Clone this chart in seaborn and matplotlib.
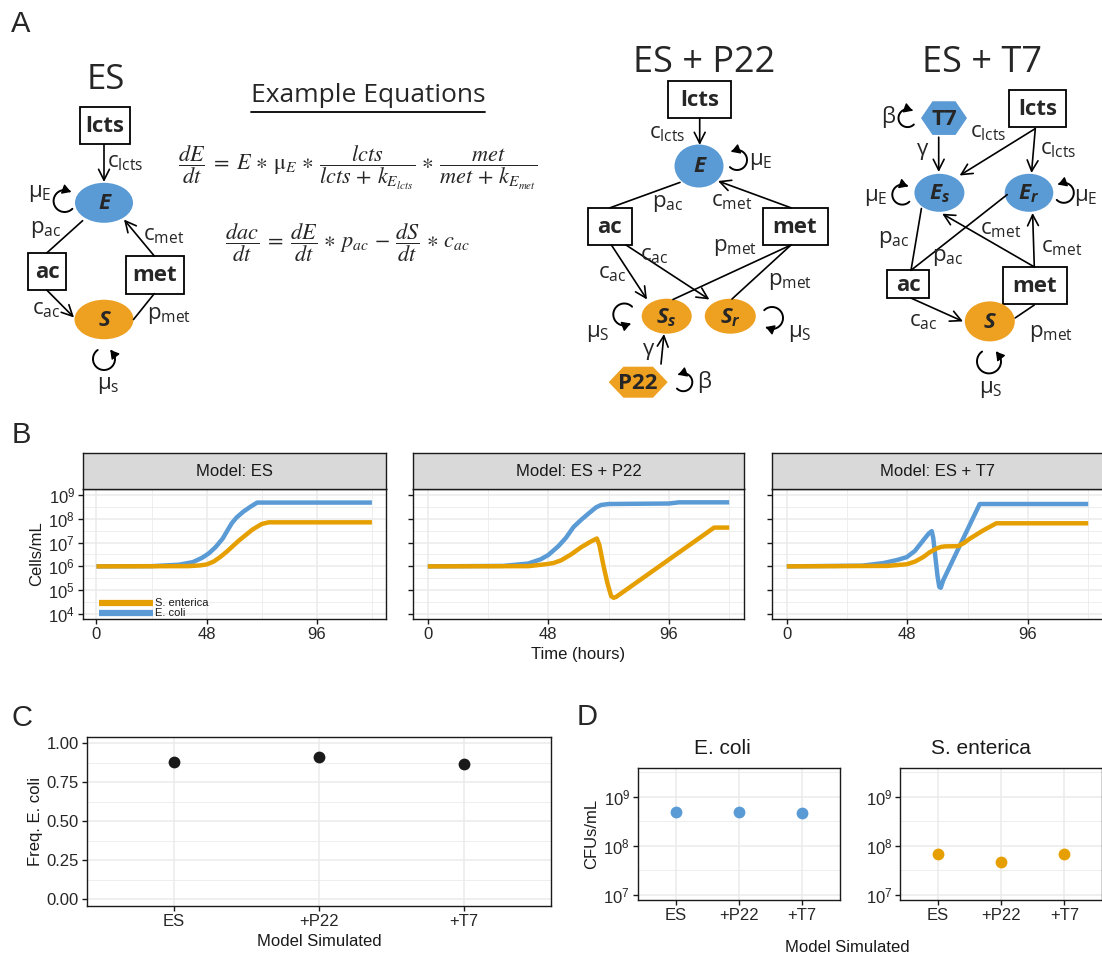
import numpy as np
import pandas as pd
import matplotlib
matplotlib.use('Agg')
import matplotlib.pyplot as plt
import seaborn as sns
from matplotlib.patches import Ellipse, Rectangle, Polygon
from matplotlib.ticker import FixedLocator, NullFormatter

sns.set_theme(style='white')
plt.rcParams['font.family'] = ['Liberation Sans', 'DejaVu Sans']

W, H = 1102, 957
ECOLI = '#5A9BD5'
SENT = '#E69F00'
DFONT = 'Open Sans'

# ---- panel B: time (hours) and log10 cells/mL read from each facet ----
models = ['Model: ES', 'Model: ES + P22', 'Model: ES + T7']

es_ec_t = [0, 24, 36, 42, 46, 49, 52, 55, 57, 59, 61, 64, 67, 70, 120]
es_ec_v = [6.0, 6.01, 6.07, 6.18, 6.36, 6.55, 6.82, 7.17, 7.5, 7.82, 8.05, 8.3, 8.5, 8.68, 8.68]
es_se_t = [0, 40, 45, 48, 51, 54, 57, 62, 68, 72, 75, 120]
es_se_v = [6.0, 6.01, 6.04, 6.08, 6.2, 6.4, 6.64, 7.08, 7.55, 7.78, 7.85, 7.85]

p22_ec_t = [0, 30, 40, 45, 48, 52, 55, 58, 61, 64, 67, 69, 72, 96, 100, 120]
p22_ec_v = [6.0, 6.02, 6.12, 6.3, 6.48, 6.85, 7.2, 7.65, 7.95, 8.22, 8.48, 8.58, 8.62, 8.64, 8.69, 8.69]
p22_se_t = [0, 40, 47, 50, 53, 57, 61, 65, 67.3, 68.3, 70, 71.5, 73, 74, 75, 114, 120]
p22_se_v = [6.0, 6.01, 6.09, 6.14, 6.25, 6.5, 6.8, 7.05, 7.17, 6.9, 6.0, 5.3, 4.75, 4.68, 4.72, 7.63, 7.63]

t7_ec_t = [0, 30, 38.5, 44, 47.8, 51, 54.3, 56.5, 57.7, 58.3, 59, 60, 60.7, 61.3, 62.3, 76.8, 120]
t7_ec_v = [6.0, 6.03, 6.14, 6.27, 6.39, 6.65, 7.09, 7.38, 7.48, 7.2, 6.53, 5.6, 5.14, 5.1, 5.42, 8.62, 8.62]
t7_se_t = [0, 40, 47.8, 51, 54.3, 57, 59.6, 61.5, 63, 68.2, 70.5, 72.8, 78, 83.4, 120]
t7_se_v = [6.0, 6.02, 6.09, 6.2, 6.39, 6.6, 6.75, 6.82, 6.84, 6.85, 6.98, 7.16, 7.5, 7.81, 7.81]

# ---- panel C / D: endpoint values ----
sim_models = ['ES', '+P22', '+T7']
freq_ecoli = [0.878, 0.910, 0.870]
cfu_ecoli = [5.0e8, 5.0e8, 4.6e8]
cfu_senterica = [6.9e7, 4.7e7, 6.9e7]

series = {
    'Model: ES': [(es_ec_t, es_ec_v, 'E. coli'), (es_se_t, es_se_v, 'S. enterica')],
    'Model: ES + P22': [(p22_ec_t, p22_ec_v, 'E. coli'), (p22_se_t, p22_se_v, 'S. enterica')],
    'Model: ES + T7': [(t7_ec_t, t7_ec_v, 'E. coli'), (t7_se_t, t7_se_v, 'S. enterica')],
}
rows = []
for m, lst in series.items():
    for t, v, sp in lst:
        for ti, vi in zip(t, v):
            rows.append((m, sp, ti, 10 ** vi))
growth = pd.DataFrame(rows, columns=['model', 'species', 'time', 'cells'])

fig = plt.figure(figsize=(W / 100, H / 100), dpi=100)


def px_axes(x0, y0, x1, y1):
    return fig.add_axes([x0 / W, 1 - y1 / H, (x1 - x0) / W, (y1 - y0) / H])


def bw(ax):
    ax.set_facecolor('white')
    for s in ax.spines.values():
        s.set_visible(True)
        s.set_color('#1a1a1a')
        s.set_linewidth(1.0)
    ax.grid(True, which='major', color='#EBEBEB', lw=1.1)
    ax.grid(True, which='minor', color='#EBEBEB', lw=0.6)
    ax.set_axisbelow(True)
    ax.tick_params(which='major', length=3.5, width=1.0, color='#1a1a1a',
                   labelsize=12, labelcolor='#262626', pad=2, left=True, bottom=True)
    ax.tick_params(which='minor', length=0)


# ================= panel A (drawn in pixel coordinates) =================
axA = fig.add_axes([0, 0, 1, 1])
axA.set_xlim(0, W)
axA.set_ylim(H, 0)
axA.axis('off')


def box(x0, y0, x1, y1, txt, fs=16):
    axA.add_patch(Rectangle((x0, y0), x1 - x0, y1 - y0, fc='white', ec='black', lw=1.3))
    axA.text((x0 + x1) / 2, (y0 + y1) / 2 + 1, txt, ha='center', va='center', fontsize=fs,
             fontweight='bold', family=DFONT)


def node(cx, cy, w, h, col, txt, sub=None, fs=16):
    axA.add_patch(Ellipse((cx, cy), w, h, fc=col, ec='none'))
    s = txt if sub is None else r'$\mathregular{%s_{%s}}$' % (txt, sub)
    axA.text(cx, cy + 1, s, ha='center', va='center', fontsize=fs, fontweight='bold',
             fontstyle='italic', family=DFONT)


def hexa(cx, cy, w, h, col, txt, fs=16):
    pts = [(cx - w / 2, cy), (cx - w / 4, cy - h / 2), (cx + w / 4, cy - h / 2),
           (cx + w / 2, cy), (cx + w / 4, cy + h / 2), (cx - w / 4, cy + h / 2)]
    axA.add_patch(Polygon(pts, closed=True, fc=col, ec='none'))
    axA.text(cx, cy + 1, txt, ha='center', va='center', fontsize=fs, fontweight='bold', family=DFONT)


def arrow(x0, y0, x1, y1, head=True):
    style = '->,head_length=0.6,head_width=0.3' if head else '-'
    axA.annotate('', xy=(x1, y1), xytext=(x0, y0),
                 arrowprops=dict(arrowstyle=style, lw=1.2, color='black',
                                 shrinkA=0, shrinkB=0, mutation_scale=13))


def loop(cx, cy, r, a0, a1):
    t = np.radians(np.linspace(a0, a1, 80))
    xs = cx + r * np.cos(t)
    ys = cy - r * np.sin(t)
    axA.plot(xs[:-2], ys[:-2], color='black', lw=1.4)
    axA.annotate('', xy=(xs[-1], ys[-1]), xytext=(xs[-10], ys[-10]),
                 arrowprops=dict(arrowstyle='-|>,head_length=0.5,head_width=0.3', color='black',
                                 lw=1.0, shrinkA=0, shrinkB=0, mutation_scale=10))


def lab(x, y, base, sub=None, fs=16, ha='left'):
    s = base if sub is None else r'$\mathregular{%s_{%s}}$' % (base, sub)
    axA.text(x, y, s, ha=ha, va='center', fontsize=fs, family=DFONT)


axA.text(21, 24, 'A', ha='center', va='center', fontsize=21)
axA.text(21, 435, 'B', ha='center', va='center', fontsize=21)
axA.text(22, 718, 'C', ha='center', va='center', fontsize=21)
axA.text(587, 717, 'D', ha='center', va='center', fontsize=21)

# --- ES diagram ---
axA.text(106, 80, 'ES', ha='center', va='center', fontsize=25, family=DFONT)
box(79.7, 107, 130, 144.3, 'lcts')
arrow(104, 144.3, 104, 182)
lab(107, 163, 'c', 'lcts')
node(104, 202.8, 58, 40, ECOLI, 'E')
loop(64.6, 201, 11, -45, -305)
lab(28, 193, 'μ', 'E')
arrow(82.6, 220.7, 46.7, 253, head=False)
lab(30.5, 229, 'p', 'ac')
box(28, 253, 66.4, 290, 'ac')
box(125.6, 256, 183.8, 293.6, 'met')
arrow(154.3, 256, 124, 219.5)
lab(143, 236, 'c', 'met')
arrow(46.7, 290, 74, 317.5)
lab(32, 309, 'c', 'ac')
node(104, 319.5, 59, 39.5, '#EEA020', 'S')
arrow(133.5, 319.5, 154.3, 293.6, head=False)
lab(147, 316, 'p', 'met')
loop(104, 359, 11, 125, 415)
lab(108, 386, 'μ', 's', ha='center')

# --- equations ---
axA.text(368, 95, 'Example Equations', ha='center', va='center', fontsize=19, family=DFONT)
axA.plot([251, 485], [112, 112], color='black', lw=1.3)
axA.text(357.5, 168, r'$\dfrac{dE}{dt}\;=\;E\,\ast\,\mathrm{\mu}_E\,\ast\,\dfrac{lcts}{lcts\,+\,k_{E_{lcts}}}'
                     r'\,\ast\,\dfrac{met}{met\,+\,k_{E_{met}}}$',
         ha='center', va='center', fontsize=16, math_fontfamily='stix')
axA.text(348, 243, r'$\dfrac{dac}{dt}\;=\;\dfrac{dE}{dt}\,\ast\,p_{ac}\,-\,\dfrac{dS}{dt}\,\ast\,c_{ac}$',
         ha='center', va='center', fontsize=16, math_fontfamily='stix')

# --- ES + P22 diagram ---
axA.text(704, 63, 'ES + P22', ha='center', va='center', fontsize=26, family=DFONT)
box(667.7, 81, 731, 118.1, 'lcts')
arrow(699.7, 118.1, 699.7, 145)
lab(685, 134, 'c', 'lcts', ha='right')
node(699, 166, 49, 43, ECOLI, 'E')
loop(737, 160, 10, 225, 485)
lab(749, 162, 'μ', 'E')
arrow(680, 182.4, 610, 207.8, head=False)
lab(652, 204, 'p', 'ac')
arrow(791, 207.8, 718, 181)
lab(711, 202, 'c', 'met')
box(587.8, 207.8, 632, 245, 'ac')
box(762.6, 207.8, 827.5, 245, 'met')
arrow(611.4, 245, 647, 299.5)
lab(598, 274, 'c', 'ac')
arrow(626, 245, 709.4, 299.5)
lab(640, 255, 'c', 'ac')
arrow(791, 245, 673, 299.5, head=False)
lab(713, 248, 'p', 'met')
arrow(791, 245, 732, 299, head=False)
lab(768, 281, 'p', 'met')
node(666.7, 316.2, 50, 35, '#EEA020', 'S', 's')
node(730.3, 316.2, 51, 35, '#EEA020', 'S', 'r')
loop(624.3, 314.5, 11, 45, 305)
lab(586, 333, 'μ', 'S')
loop(772, 318, 11, 135, -125)
lab(787.6, 333, 'μ', 'S')
arrow(661, 364, 664, 334)
lab(648.6, 349, 'γ', ha='center')
hexa(638.2, 382.2, 59, 31, '#EEA020', 'P22')
loop(683.3, 382.2, 9, 225, 485)
lab(704, 382, 'β', ha='center')

# --- ES + T7 diagram ---
axA.text(982, 63, 'ES + T7', ha='center', va='center', fontsize=26, family=DFONT)
hexa(944, 118.1, 46, 33.7, ECOLI, 'T7')
loop(907.5, 118.1, 9, -45, -305)
lab(888.4, 117, 'β', ha='center')
box(1009, 90.3, 1065.6, 126.8, 'lcts')
arrow(1035.3, 128.6, 959.6, 175.5)
lab(970, 133, 'c', 'lcts')
arrow(1035.3, 128.6, 1031.5, 173)
lab(1039.5, 150, 'c', 'lcts')
arrow(938.7, 137.2, 938.7, 172)
lab(923, 149, 'γ', ha='center')
node(939.4, 192.8, 50, 38, ECOLI, 'E', 's')
node(1029, 192.8, 48.6, 38, ECOLI, 'E', 'r')
loop(902.3, 194.6, 10, -45, -305)
lab(864, 198, 'μ', 'E')
loop(1063.8, 192.8, 10, 225, 485)
lab(1074, 197, 'μ', 'E')
box(887.3, 270.3, 929, 298, 'ac')
box(1003, 266.9, 1066.6, 304, 'met')
arrow(911, 270.3, 921.4, 208.5, head=False)
lab(878, 239, 'p', 'ac')
arrow(911, 270.3, 1007.2, 194.6, head=False)
lab(931.8, 258, 'p', 'ac')
arrow(1034.3, 266.9, 942.2, 213.7)
lab(980.4, 230, 'c', 'met')
arrow(1034.3, 266.9, 1032.6, 213)
lab(1041, 248, 'c', 'met')
arrow(911, 298.1, 963, 321.4)
lab(909, 322, 'c', 'ac')
node(989.8, 321.4, 50, 40, '#EEA020', 'S')
arrow(1015.2, 317.9, 1034.3, 305, head=False)
lab(1029, 333, 'p', 'met')
loop(989, 361.4, 12, 125, 415)
lab(991, 390, 'μ', 'S', ha='center')

# ================= panel B =================
b_boxes = [(82.7, 385.7), (412.7, 744.3), (771.7, 1103.3)]
for i, (m, (x0, x1)) in enumerate(zip(models, b_boxes)):
    ax = px_axes(x0, 489, x1, 619)
    sub = growth[growth['model'] == m]
    sns.lineplot(data=sub, x='time', y='cells', hue='species', hue_order=['E. coli', 'S. enterica'],
                 palette={'E. coli': ECOLI, 'S. enterica': SENT}, lw=3.2, estimator=None,
                 sort=False, legend=False, ax=ax, solid_capstyle='butt')
    ax.set_yscale('log')
    ax.set_ylim(10 ** 3.79, 10 ** 9.25)
    ax.set_xlim(-6, 126)
    bw(ax)
    ax.set_xticks([0, 48, 96])
    ax.xaxis.set_minor_locator(FixedLocator([24, 72, 120]))
    ax.yaxis.set_major_locator(FixedLocator([10.0 ** k for k in range(4, 10)]))
    ax.yaxis.set_minor_locator(FixedLocator([10.0 ** (k + 0.5) for k in range(3, 10)]))
    ax.yaxis.set_minor_formatter(NullFormatter())
    ax.set_xlabel('')
    ax.set_ylabel('')
    if i == 0:
        ax.set_yticklabels([r'$\mathregular{10^{%d}}$' % k for k in range(4, 10)])
        ax.set_ylabel('Cells/mL', fontsize=12, color='#1a1a1a', labelpad=3)
        ax.plot([0.055, 0.233], [0.125, 0.125], transform=ax.transAxes, color=SENT, lw=4.5,
                solid_capstyle='butt')
        ax.plot([0.055, 0.233], [0.045, 0.045], transform=ax.transAxes, color=ECOLI, lw=4.5,
                solid_capstyle='butt')
        ax.text(0.239, 0.125, 'S. enterica', transform=ax.transAxes, fontsize=8, va='center',
                color='#1a1a1a')
        ax.text(0.239, 0.045, 'E. coli', transform=ax.transAxes, fontsize=8, va='center',
                color='#1a1a1a')
    else:
        ax.set_yticklabels([])
    if i == 1:
        ax.set_xlabel('Time (hours)', fontsize=12, color='#1a1a1a', labelpad=4)
    strip = px_axes(x0, 453, x1, 489)
    strip.set_facecolor('#D9D9D9')
    strip.set_xticks([])
    strip.set_yticks([])
    for s in strip.spines.values():
        s.set_visible(True)
        s.set_color('#1a1a1a')
        s.set_linewidth(1.0)
    strip.text(0.5, 0.5, m, ha='center', va='center', fontsize=12, color='#1a1a1a',
               transform=strip.transAxes)

# ================= panel C =================
axC = px_axes(86.7, 736.7, 551, 906)
sns.stripplot(x=sim_models, y=freq_ecoli, color='#1a1a1a', size=8.5, jitter=False, ax=axC)
axC.set_xlim(-0.6, 2.6)
axC.set_ylim(-0.045, 1.043)
bw(axC)
axC.set_yticks([0, 0.25, 0.5, 0.75, 1.0])
axC.set_yticklabels(['0.00', '0.25', '0.50', '0.75', '1.00'])
axC.yaxis.set_minor_locator(FixedLocator([0.125, 0.375, 0.625, 0.875]))
axC.set_xlabel('Model Simulated', fontsize=12, color='#1a1a1a', labelpad=4)
axC.set_ylabel('Freq. E. coli', fontsize=12, color='#1a1a1a', labelpad=3)

# ================= panel D =================
for vals, col, title, (x0, x1), first in [(cfu_ecoli, ECOLI, 'E. coli', (637.7, 840), True),
                                          (cfu_senterica, SENT, 'S. enterica', (900, 1102.3), False)]:
    ax = px_axes(x0, 767.7, x1, 900)
    sns.stripplot(x=sim_models, y=vals, color=col, size=8.5, jitter=False, ax=ax)
    ax.set_yscale('log')
    ax.set_xlim(-0.6, 2.6)
    ax.set_ylim(10 ** 6.9, 10 ** 9.59)
    bw(ax)
    ax.yaxis.set_major_locator(FixedLocator([1e7, 1e8, 1e9]))
    ax.yaxis.set_minor_locator(FixedLocator([10 ** 7.5, 10 ** 8.5, 10 ** 9.5]))
    ax.yaxis.set_minor_formatter(NullFormatter())
    ax.set_yticklabels([r'$\mathregular{10^{%d}}$' % k for k in (7, 8, 9)])
    ax.set_xlabel('')
    ax.set_ylabel('CFUs/mL' if first else '', fontsize=12, color='#1a1a1a', labelpad=3)
    fig.text(((x0 + x1) / 2 - 16 if first else (x0 + x1) / 2 - 20) / W, 1 - 749 / H, title,
             ha='center', va='center', fontsize=15, color='#1a1a1a')

fig.text(847 / W, 1 - 948 / H, 'Model Simulated', ha='center', va='center', fontsize=12,
         color='#1a1a1a')

fig.savefig('out.png', dpi=100)
